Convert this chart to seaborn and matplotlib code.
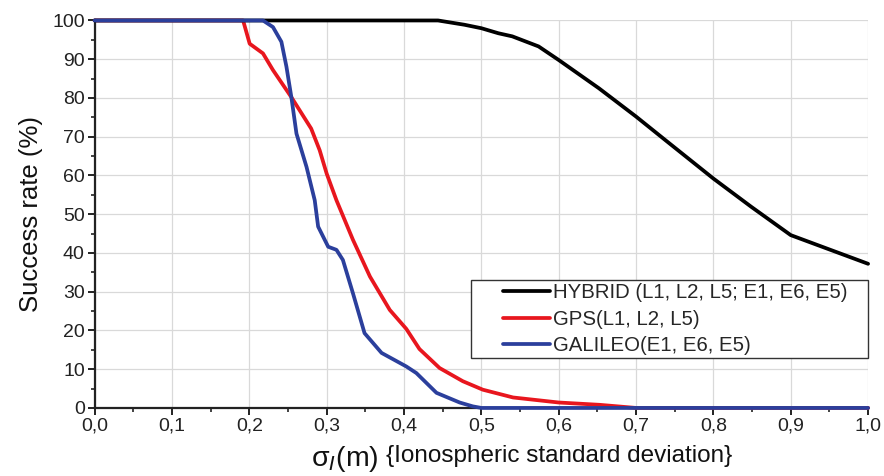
import matplotlib
matplotlib.use("Agg")
import matplotlib.pyplot as plt
from matplotlib.ticker import MultipleLocator, FuncFormatter
from matplotlib.legend_handler import HandlerLine2D
import seaborn as sns
import pandas as pd

# values
hybrid_x = [0.0, 0.444, 0.478, 0.5, 0.522, 0.54, 0.574, 0.6, 0.652, 0.7, 0.738, 0.8, 0.849, 0.9, 1.0]
hybrid_y = [100, 100, 98.9, 98.0, 96.7, 95.9, 93.3, 89.8, 82.5, 75.2, 69.1, 59.2, 51.9, 44.6, 37.2]

gps_x = [0.0, 0.192, 0.2005, 0.2177, 0.2306, 0.2544, 0.28, 0.291, 0.3, 0.3127, 0.334, 0.356,
         0.3816, 0.403, 0.42, 0.446, 0.476, 0.502, 0.541, 0.6, 0.653, 0.7, 1.0]
gps_y = [100, 100, 94.0, 91.5, 87.2, 80.2, 72.1, 66.5, 60.5, 53.6, 43.4, 33.9,
         25.3, 20.4, 15.2, 10.3, 6.9, 4.7, 2.7, 1.4, 0.8, 0, 0]

galileo_x = [0.0, 0.2177, 0.2306, 0.2415, 0.248, 0.2544, 0.261, 0.274, 0.2846, 0.289, 0.302,
             0.3127, 0.321, 0.334, 0.349, 0.371, 0.403, 0.416, 0.442, 0.472, 0.489, 0.5, 1.0]
galileo_y = [100, 100, 98.3, 94.5, 88.1, 80.2, 70.8, 62.2, 53.6, 46.8, 41.6,
             40.8, 38.2, 29.6, 19.3, 14.2, 10.7, 9.0, 3.9, 1.4, 0.4, 0, 0]

labels = ["HYBRID (L1, L2, L5; E1, E6, E5)", "GPS(L1, L2, L5)", "GALILEO(E1, E6, E5)"]
colors = ["#000000", "#e8161e", "#2b3f9c"]

df = pd.concat([
    pd.DataFrame({"sigma": hybrid_x, "rate": hybrid_y, "system": labels[0]}),
    pd.DataFrame({"sigma": gps_x, "rate": gps_y, "system": labels[1]}),
    pd.DataFrame({"sigma": galileo_x, "rate": galileo_y, "system": labels[2]}),
])


class RightLine(HandlerLine2D):
    # legend line only on the right part of the handle box (empty space on the left)
    def create_artists(self, legend, orig_handle, xdescent, ydescent, width, height,
                       fontsize, trans):
        arts = super().create_artists(legend, orig_handle, xdescent, ydescent, width,
                                      height, fontsize, trans)
        line = arts[0]
        yv = line.get_ydata()[0]
        line.set_data([-xdescent + 0.38 * width, -xdescent + width], [yv, yv])
        return arts


sns.set_style("whitegrid")
plt.rcParams['font.family'] = ['Liberation Sans', 'DejaVu Sans']

fig, ax = plt.subplots(figsize=(8.84, 4.76), dpi=100)
fig.subplots_adjust(left=0.107, right=0.982, top=0.957, bottom=0.143)

for lab, col, z in zip(labels, colors, [3, 2, 4]):
    sub = df[df["system"] == lab]
    sns.lineplot(data=sub, x="sigma", y="rate", color=col, linewidth=2.7,
                 estimator=None, sort=False, ax=ax, label=lab, zorder=z, clip_on=False)

ax.set_xlim(0, 1.0)
ax.set_ylim(0, 100)
ax.xaxis.set_major_locator(MultipleLocator(0.1))
ax.xaxis.set_minor_locator(MultipleLocator(0.05))
ax.yaxis.set_major_locator(MultipleLocator(10))
ax.yaxis.set_minor_locator(MultipleLocator(5))
ax.xaxis.set_major_formatter(FuncFormatter(lambda v, p: f"{v:.1f}".replace(".", ",")))

ax.grid(True, which="major", color="#d9d9d9", linewidth=0.9)
ax.grid(False, which="minor")
for s in ["top", "right"]:
    ax.spines[s].set_visible(False)
for s in ["left", "bottom"]:
    ax.spines[s].set_color("#222222")
    ax.spines[s].set_linewidth(1.6)

ax.tick_params(which="major", direction="out", length=5, width=1.4, color="#222222",
               labelsize=14, labelcolor="#222222", pad=2, bottom=True, left=True)
ax.tick_params(which="minor", direction="out", length=3, width=1.2, color="#222222",
               bottom=True, left=True)

ax.set_ylabel("Success rate (%)", fontsize=18.5, color="#111111", labelpad=7)
ax.set_xlabel("")
fig.text(0.352, 0.022, r"$\mathregular{\sigma}_{\mathit{I}}$(m)", fontsize=20.5, color="#111111")
fig.text(0.437, 0.03, "{Ionospheric standard deviation}", fontsize=17.5, color="#111111")

handles, _ = ax.get_legend_handles_labels()
leg = ax.legend(handles, [l + "   " for l in labels], loc="lower right",
                bbox_to_anchor=(1.0, 0.128),
                fontsize=14.7, frameon=True, fancybox=False, edgecolor="#333333",
                framealpha=1, handlelength=3.75, handletextpad=0.15, labelspacing=0.36,
                borderpad=0.16, borderaxespad=0,
                handler_map={h: RightLine() for h in handles})
leg.get_frame().set_linewidth(1.0)

fig.savefig("out.png", dpi=100)
